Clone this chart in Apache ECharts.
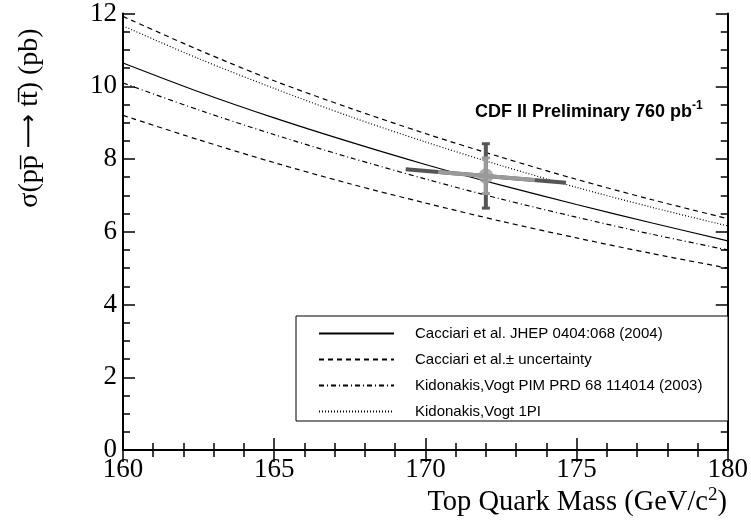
<!DOCTYPE html>
<html><head><meta charset="utf-8">
<script src="https://cdn.jsdelivr.net/npm/echarts@6/dist/echarts.min.js"></script>
<style>html,body{margin:0;padding:0;background:#fff}#c{width:751px;height:525px}</style>
</head><body><div id="c"></div>
<script>
// ---- data ----
const massGrid        = [160, 162.5, 165, 167.5, 170, 172.5, 175, 177.5, 180];
const cacciariCentral = [10.64, 9.85, 9.13, 8.47, 7.85, 7.28, 6.75, 6.24, 5.75];
const cacciariUpper   = [11.92, 11.0, 10.15, 9.40, 8.70, 8.05, 7.44, 6.88, 6.36];
const cacciariLower   = [9.20, 8.53, 7.90, 7.32, 6.79, 6.29, 5.83, 5.40, 5.00];
const kidonakisPIM    = [10.09, 9.35, 8.67, 8.04, 7.45, 6.90, 6.40, 5.93, 5.50];
const kidonakis1PI    = [11.66, 10.76, 9.94, 9.17, 8.47, 7.82, 7.22, 6.67, 6.16];

const measMass = [172.0];
const measXsec = [7.53];
const xsecTotalBand = [6.65, 8.42];
const xsecStatBand  = [7.05, 8.03];
const massTotalMass = [169.35, 174.65];
const massTotalXsec = [7.72, 7.35];
const massStatMass  = [170.42, 173.62];
const massStatXsec  = [7.64, 7.42];

const xTickValues = [160, 165, 170, 175, 180];
const yTickValues = [0, 2, 4, 6, 8, 10, 12];

const legendNames = [
  'Cacciari et al. JHEP 0404:068 (2004)',
  'Cacciari et al.\u00b1 uncertainty',
  'Kidonakis,Vogt PIM PRD 68 114014 (2003)',
  'Kidonakis,Vogt 1PI'
];

// ---- build ----
const zip = (xs, ys) => xs.map((x, i) => [x, ys[i]]);
const DARK = '#555555', LIGHT = '#9a9a9a';
const serif = 'Liberation Serif';

function curve(name, ys, type) {
  return {
    name, type: 'line', data: zip(massGrid, ys), symbol: 'none', smooth: 0.3,
    lineStyle: { color: '#000', width: 1.2, type }, itemStyle: { color: '#000' },
    silent: true, z: 2
  };
}
function seg(xs, ys, color, width, capped) {
  return {
    type: 'line', data: zip(xs, ys), lineStyle: { color, width },
    itemStyle: { color }, symbol: capped ? 'rect' : 'none',
    symbolSize: capped ? [8, 3] : 0, showSymbol: !!capped, silent: true, z: 3
  };
}

const axisCommon = {
  axisLine: { show: true, lineStyle: { color: '#000', width: 2 } },
  axisTick: { show: true, inside: true, length: 12, lineStyle: { color: '#000', width: 1.5 } },
  minorTick: { show: true, length: 7, lineStyle: { color: '#000', width: 1.5 } },
  splitLine: { show: false }
};

const option = {
  animation: false,
  backgroundColor: '#fff',
  grid: { left: 123, right: 23, top: 12, bottom: 75, containLabel: false },
  xAxis: [
    Object.assign({}, axisCommon, {
      type: 'value', min: xTickValues[0], max: xTickValues[xTickValues.length - 1], interval: 5,
      position: 'bottom',
      minorTick: Object.assign({}, axisCommon.minorTick, { splitNumber: 5 }),
      axisLabel: { color: '#000', fontFamily: serif, fontSize: 27, margin: 6 }
    }),
    Object.assign({}, axisCommon, {
      type: 'value', min: xTickValues[0], max: xTickValues[xTickValues.length - 1], interval: 5,
      position: 'top',
      minorTick: Object.assign({}, axisCommon.minorTick, { splitNumber: 5 }),
      axisLabel: { show: false }
    })
  ],
  yAxis: [
    Object.assign({}, axisCommon, {
      type: 'value', min: yTickValues[0], max: yTickValues[yTickValues.length - 1], interval: 2,
      position: 'left',
      minorTick: Object.assign({}, axisCommon.minorTick, { splitNumber: 4 }),
      axisLabel: { color: '#000', fontFamily: serif, fontSize: 27, margin: 6 }
    }),
    Object.assign({}, axisCommon, {
      type: 'value', min: yTickValues[0], max: yTickValues[yTickValues.length - 1], interval: 2,
      position: 'right',
      minorTick: Object.assign({}, axisCommon.minorTick, { splitNumber: 4 }),
      axisLabel: { show: false }
    })
  ],
  legend: {
    data: legendNames, orient: 'vertical', left: 313, top: 321,
    itemWidth: 75, itemHeight: 14, itemGap: 11, selectedMode: false,
    itemStyle: { opacity: 0 },
    textStyle: { color: '#000', fontFamily: 'Liberation Sans', fontSize: 15,
      rich: { s: { width: 16 } } },
    formatter: n => '{s|}' + n,
    z: 10
  },
  graphic: [
    { type: 'rect', z: 5, silent: true,
      shape: { x: 296, y: 316, width: 432, height: 105 },
      style: { fill: '#fff', stroke: '#000', lineWidth: 1 } },
    { type: 'text', z: 6, silent: true, x: 475, y: 112,
      style: { text: '{b|CDF II Preliminary 760 pb}{s|-1}', textVerticalAlign: 'middle',
        rich: { b: { fontFamily: 'Liberation Sans', fontWeight: 'bold', fontSize: 18, fill: '#000' },
                s: { fontFamily: 'Liberation Sans', fontWeight: 'bold', fontSize: 12, fill: '#000', padding: [0, 0, 13, 0] } } } },
    { type: 'text', z: 6, silent: true, x: 30, y: 118, rotation: Math.PI / 2,
      style: { text: '{n|\u03c3(pp\u0305 }{a|\u27f6}{n| tt\u0305) (pb)}', textAlign: 'center', textVerticalAlign: 'middle',
        rich: { n: { fontFamily: serif, fontSize: 28, fill: '#000' },
                a: { fontFamily: 'DejaVu Sans', fontSize: 24, fill: '#000' } } } },
    { type: 'text', z: 6, silent: true, x: 727, y: 503,
      style: { text: '{n|Top Quark Mass (GeV/c}{s|2}{n|)}', textAlign: 'right', textVerticalAlign: 'middle',
        rich: { n: { fontFamily: serif, fontSize: 28.5, fill: '#000' },
                s: { fontFamily: serif, fontSize: 19, fill: '#000', padding: [0, 0, 15, 0] } } } }
  ],
  series: [
    curve(legendNames[0], cacciariCentral, 'solid'),
    curve(legendNames[1], cacciariUpper, [5, 4]),
    curve(legendNames[1], cacciariLower, [5, 4]),
    curve(legendNames[2], kidonakisPIM, [5, 3, 1, 3]),
    curve(legendNames[3], kidonakis1PI, [1, 2]),
    seg(massTotalMass, massTotalXsec, DARK, 4, false),
    seg([measMass[0], measMass[0]], xsecTotalBand, DARK, 4, true),
    seg(massStatMass, massStatXsec, LIGHT, 4, false),
    seg([measMass[0], measMass[0]], xsecStatBand, LIGHT, 4, true),
    { type: 'scatter', data: zip(measMass, measXsec), symbol: 'circle', symbolSize: 15,
      itemStyle: { color: LIGHT }, silent: true, z: 4 }
  ]
};

const chart = echarts.init(document.getElementById('c'), null, { renderer: 'canvas' });
chart.setOption(option);
</script>
</body></html>
